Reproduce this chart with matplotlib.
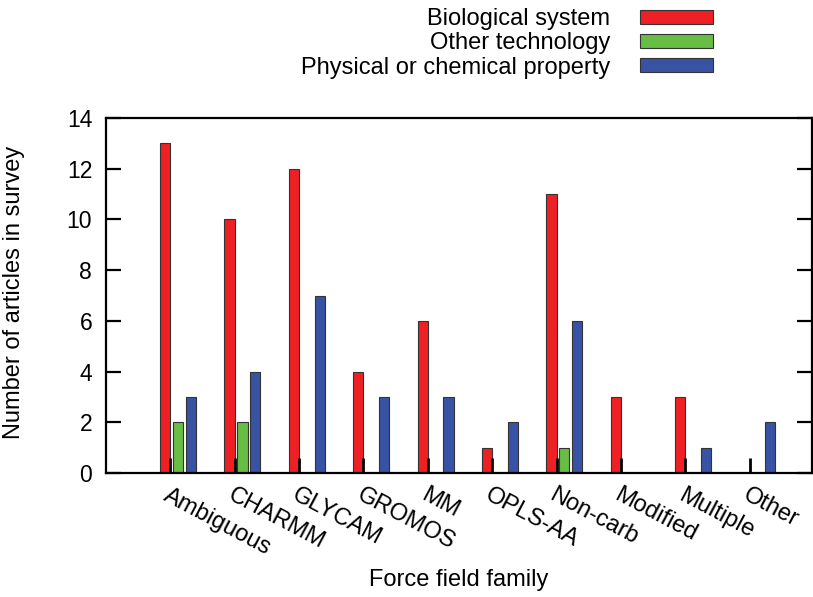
import numpy as np
from matplotlib import pyplot as plt

# survey counts per force field family
families = ['Ambiguous', 'CHARMM', 'GLYCAM', 'GROMOS', 'MM', 'OPLS-AA',
            'Non-carb', 'Modified', 'Multiple', 'Other']
biological = [13, 10, 12, 4, 6, 1, 11, 3, 3, 0]
other_tech = [2, 2, 0, 0, 0, 0, 1, 0, 0, 0]
physical = [3, 4, 7, 3, 3, 2, 6, 0, 1, 2]

series = [
    ('Biological system', biological, '#ee2024', -0.08),
    ('Other technology', other_tech, '#68bd45', 0.12),
    ('Physical or chemical property', physical, '#3953a4', 0.32),
]

plt.rcParams['font.family'] = ['Liberation Sans', 'DejaVu Sans']

fig = plt.figure(figsize=(8.13, 5.97), dpi=100)
ax = fig.add_axes([0.1304, 0.2077, 0.8684, 0.5946])

x = np.arange(len(families))
for label, vals, color, offset in series:
    ax.bar(x + offset, vals, width=0.16, color=color, edgecolor='#333333',
           linewidth=0.8, label=label)

ax.set_xlim(-1.0, 9.97)
ax.set_ylim(0, 14)
ax.set_yticks(range(0, 15, 2))
ax.set_xticks(x)
ax.set_xticklabels(families, rotation=-28, ha='left', va='top',
                   rotation_mode='anchor', fontsize=17)

for s in ax.spines.values():
    s.set_linewidth(1.6)

ax.tick_params(axis='y', direction='in', length=11, width=1.6, labelsize=16.5,
               pad=10, right=True)
ax.tick_params(axis='x', direction='in', length=11, width=2, pad=8,
               top=False)

ax.set_xlabel('Force field family', fontsize=17)
ax.xaxis.set_label_coords(0.5, -0.27)
ax.set_ylabel('Number of articles in survey', fontsize=17)
ax.yaxis.set_label_coords(-0.115, 0.51)

ax.legend(loc='upper right', bbox_to_anchor=(713 / 813, 589 / 597),
          bbox_transform=fig.transFigure, frameon=False, markerfirst=False,
          fontsize=17, handlelength=3.1, handleheight=0.55,
          handletextpad=1.25, labelspacing=0.1, borderpad=0,
          borderaxespad=0)

fig.savefig('out.png', dpi=100)
